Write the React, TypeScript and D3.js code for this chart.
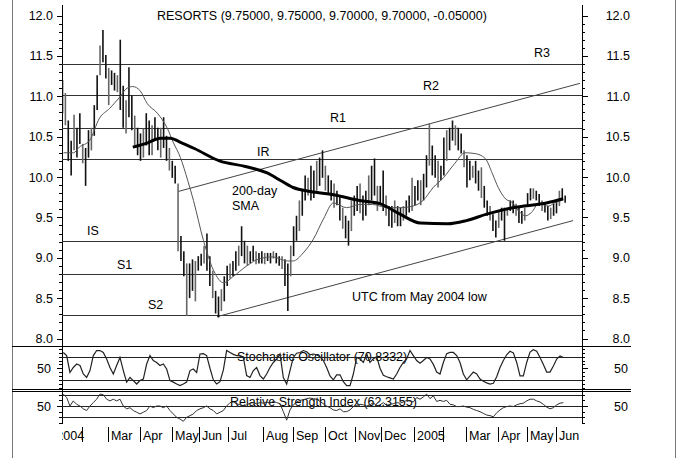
import React from 'react';
import * as d3 from 'd3';

const title = 'RESORTS (9.75000, 9.75000, 9.70000, 9.70000, -0.05000)';

// one bar every 2nd trading session, starting at session 0
const barHigh = [
  11.20, 11.04, 10.70, 10.45, 10.77, 10.61, 10.79, 10.41, 10.36, 10.58,
  10.61, 10.89, 11.26, 11.63, 11.82, 11.51, 11.35, 11.32, 11.29, 11.26,
  11.70, 11.13, 10.95, 11.36, 11.01, 10.76, 10.61, 10.54, 10.60, 10.79,
  10.70, 10.64, 10.74, 10.61, 10.61, 10.74, 10.51, 10.36, 10.20, 10.14,
  9.92, 9.27, 9.08, 8.93, 8.93, 8.98, 8.96, 9.02, 9.05, 9.15,
  9.30, 9.02, 8.84, 8.59, 8.52, 8.61, 8.77, 8.90, 8.93, 8.96,
  9.08, 9.15, 9.39, 9.21, 9.15, 9.08, 9.15, 9.08, 9.06, 9.08,
  9.06, 9.06, 9.06, 9.08, 9.06, 9.02, 9.02, 8.98, 8.93, 9.15,
  9.39, 9.52, 9.71, 9.83, 10.02, 9.99, 10.14, 10.08, 10.20, 10.24,
  10.33, 10.14, 10.02, 9.96, 9.92, 9.83, 9.77, 9.62, 9.52, 9.46,
  9.71, 9.77, 9.89, 9.92, 9.77, 9.83, 10.02, 10.14, 10.23, 9.89,
  9.89, 10.08, 9.77, 9.64, 9.64, 9.71, 9.64, 9.62, 9.64, 9.71,
  9.77, 9.99, 9.89, 9.96, 9.96, 10.04, 10.27, 10.66, 10.39, 10.27,
  10.20, 10.14, 10.49, 10.58, 10.61, 10.70, 10.64, 10.61, 10.54, 10.33,
  10.27, 10.20, 10.14, 10.20, 10.08, 10.12, 9.89, 9.71, 9.64, 9.54,
  9.46, 9.58, 9.62, 9.62, 9.62, 9.71, 9.71, 9.67, 9.62, 9.58,
  9.62, 9.80, 9.86, 9.86, 9.83, 9.79, 9.71, 9.67, 9.64, 9.62,
  9.67, 9.71, 9.83, 9.86, 9.77,
];
const barLow = [
  10.79, 10.64, 10.20, 10.02, 10.33, 10.24, 10.41, 10.17, 9.89, 10.24,
  10.33, 10.51, 10.83, 11.26, 11.42, 11.22, 10.89, 11.14, 11.07, 11.05,
  10.83, 10.61, 10.54, 10.74, 10.58, 10.39, 10.27, 10.20, 10.24, 10.39,
  10.27, 10.27, 10.45, 10.33, 10.24, 10.36, 10.20, 10.08, 9.99, 9.92,
  9.08, 8.96, 8.77, 8.28, 8.50, 8.59, 8.46, 8.84, 8.90, 8.93,
  8.84, 8.65, 8.50, 8.31, 8.26, 8.34, 8.46, 8.65, 8.74, 8.77,
  8.84, 8.90, 9.02, 8.93, 8.90, 8.93, 8.96, 8.92, 8.93, 8.93,
  8.92, 8.96, 8.93, 8.99, 8.93, 8.90, 8.86, 8.65, 8.34, 8.77,
  9.02, 9.21, 9.33, 9.52, 9.71, 9.77, 9.71, 9.74, 9.83, 9.89,
  9.99, 9.83, 9.80, 9.71, 9.62, 9.65, 9.46, 9.36, 9.24, 9.15,
  9.33, 9.52, 9.58, 9.55, 9.46, 9.52, 9.65, 9.71, 9.77, 9.58,
  9.65, 9.58, 9.52, 9.39, 9.37, 9.43, 9.39, 9.39, 9.46, 9.52,
  9.56, 9.58, 9.65, 9.71, 9.65, 9.71, 9.87, 10.14, 10.02, 9.99,
  9.87, 9.96, 10.02, 10.20, 10.33, 10.45, 10.39, 10.33, 10.29, 10.12,
  9.87, 9.96, 9.99, 9.92, 9.83, 9.74, 9.62, 9.52, 9.46, 9.33,
  9.25, 9.37, 9.46, 9.21, 9.52, 9.58, 9.55, 9.52, 9.43, 9.42,
  9.46, 9.64, 9.71, 9.73, 9.71, 9.64, 9.58, 9.56, 9.46, 9.48,
  9.52, 9.55, 9.64, 9.71, 9.68,
];

const levelNames = ['R3', 'R2', 'R1', 'IR', 'IS', 'S1', 'S2'];
const levelValues = [11.40, 11.02, 10.61, 10.22, 9.21, 8.80, 8.29];

// 200-day SMA (session, price)
const smaDays = [49, 59, 68, 75, 82, 92, 109, 127, 142, 151, 160, 172, 188, 206, 220, 234, 248, 267, 280, 294, 312, 336, 347];
const smaVals = [10.37, 10.42, 10.48, 10.48, 10.43, 10.35, 10.20, 10.13, 10.05, 9.96, 9.87, 9.82, 9.78, 9.71, 9.67, 9.54, 9.43, 9.42, 9.46, 9.54, 9.62, 9.68, 9.73];

// short moving average (session, price)
const maDays = [
  1, 8, 12, 19, 26, 33, 40, 45, 49, 54, 59, 66, 73, 77, 82, 87, 91, 98, 105, 112,
  118, 128, 137, 146, 156, 160, 167, 174, 181, 188, 197, 206, 215, 225, 234, 243,
  250, 257, 264, 272, 279, 286, 293, 298, 302, 307, 312, 316, 321, 325, 330, 337, 341, 346,
];
const maVals = [
  10.30, 10.30, 10.37, 10.45, 10.73, 10.85, 10.99, 11.10, 11.12, 11.07, 10.91, 10.79, 10.60, 10.43, 10.24, 9.96, 9.71, 9.21, 8.84, 8.69,
  8.76, 8.90, 8.99, 9.01, 8.96, 8.96, 9.06, 9.23, 9.48, 9.68, 9.62, 9.66, 9.66, 9.62, 9.62, 9.64,
  9.71, 9.87, 9.99, 10.17, 10.30, 10.29, 10.23, 10.04, 9.87, 9.73, 9.68, 9.58, 9.52, 9.56, 9.67, 9.64, 9.68, 9.71,
];

// channel from the May 2004 low
const lowerChannel = [[107.3, 8.27], [353.8, 9.46]];
const upperChannel = [[80.3, 9.82], [358.6, 11.16]];

// oscillators, sampled every oscStep sessions from oscStart
const oscStart = 0.9;
const oscStep = 2.308;
const stochVals = [
  91, 83, 39, 52, 61, 57, 35, 26, 44, 83, 96, 96, 91, 74, 52, 35, 57, 78, 44, 14,
  26, 18, 9, 18, 22, 61, 83, 70, 65, 57, 61, 48, 18, 14, 9, 5, 9, 14, 44, 48,
  39, 87, 88, 83, 50, 20, 9, 15, 45, 96, 91, 86, 83, 83, 78, 31, 26, 44, 52, 31,
  22, 35, 52, 65, 74, 87, 26, 9, 44, 78, 89, 91, 96, 93, 85, 87, 85, 80, 70, 52,
  30, 20, 33, 33, 15, 5, 5, 35, 78, 74, 65, 87, 65, 75, 80, 50, 32, 28, 25, 22,
  35, 52, 65, 74, 96, 83, 70, 63, 70, 78, 74, 60, 40, 35, 65, 88, 91, 91, 83, 65,
  35, 20, 30, 40, 35, 22, 16, 12, 9, 11, 28, 52, 70, 85, 94, 90, 65, 30, 30, 65,
  92, 98, 94, 78, 60, 40, 40, 56, 74, 82, 78,
];
const rsiVals = [
  71, 65, 50, 59, 53, 50, 45, 42, 50, 56, 62, 71, 70, 62, 59, 62, 59, 62, 50, 45,
  47, 42, 39, 36, 39, 42, 50, 47, 50, 50, 47, 50, 42, 36, 30, 27, 23, 30, 33, 36,
  42, 45, 47, 50, 45, 42, 36, 39, 42, 50, 56, 57, 54, 52, 50, 52, 55, 56, 54, 56,
  55, 57, 55, 58, 56, 54, 40, 25, 43, 52, 57, 60, 61, 63, 64, 63, 62, 58, 54, 50,
  47, 43, 42, 45, 40, 40, 43, 49, 51, 53, 52, 50, 52, 56, 50, 52, 56, 51, 53, 54,
  56, 55, 57, 60, 59, 57, 65, 62, 66, 71, 63, 68, 58, 60, 58, 60, 53, 52, 49, 49,
  50, 48, 47, 44, 42, 40, 37, 34, 33, 31, 38, 43, 47, 49, 50, 49, 52, 54, 55, 59,
  62, 62, 59, 57, 53, 48, 45, 47, 52, 55, 56,
];

const monthLabels = ['2004', '', 'Mar', 'Apr', 'May', 'Jun', 'Jul', 'Aug', 'Sep', 'Oct', 'Nov', 'Dec', '2005', '', 'Mar', 'Apr', 'May', 'Jun'];
const monthDays = [-6, 13.8, 31.8, 54, 76.2, 94.8, 114.9, 139.2, 159.9, 182.1, 202.8, 220.8, 243.7, 263.8, 279.7, 301.8, 321.9, 342];

const x = d3.scaleLinear().domain([0, 360]).range([62, 582]);
const y = d3.scaleLinear().domain([8, 12]).range([338.5, 15.5]);
const yS = d3.scaleLinear().domain([0, 100]).range([387.5, 349]);
const yR = d3.scaleLinear().domain([20, 80]).range([423, 389]);

const font = "'Liberation Sans', Arial, sans-serif";

export default function App() {
  const straight = d3.line<number[]>().x(d => x(d[0])).y(d => y(d[1]));
  const smooth = d3.line<number[]>().x(d => x(d[0])).y(d => y(d[1])).curve(d3.curveMonotoneX);
  const stochLine = d3.line<number>().x((_, i) => x(oscStart + i * oscStep)).y(d => yS(d));
  const rsiLine = d3.line<number>().x((_, i) => x(oscStart + i * oscStep)).y(d => yR(d));

  const sma = smaDays.map((d, i) => [d, smaVals[i]]);
  const ma = maDays.map((d, i) => [d, maVals[i]]);

  const minorPrice = d3.range(80, 121).map(v => v / 10);
  const majorPrice = d3.range(16, 25).map(v => v / 2);
  const stochTicks = d3.range(0, 101, 10);
  const rsiTicks = d3.range(20, 81, 10);

  const axisTicks = (yy: number, major: boolean, key: string) => (
    <g key={key}>
      <line x1={major ? 57 : 59} x2={62} y1={yy} y2={yy} stroke="#000" />
      <line x1={582} x2={major ? 588 : 585} y1={yy} y2={yy} stroke="#000" />
    </g>
  );

  return (
    <svg width={688} height={458} style={{ position: 'absolute', left: 0, top: 0, background: '#fff' }}
      fontFamily={font} fontSize={12.5}>
      <defs>
        <clipPath id="plot"><rect x={62} y={0} width={520} height={345} /></clipPath>
        <clipPath id="osc"><rect x={62} y={346} width={520} height={80} /></clipPath>
        <clipPath id="xlab"><rect x={62} y={424} width={560} height={30} /></clipPath>
      </defs>

      {/* outer frame */}
      <line x1={12.5} x2={12.5} y1={0} y2={458} stroke="#777" />
      <line x1={675.5} x2={675.5} y1={0} y2={458} stroke="#777" />
      <line x1={12} x2={631} y1={346.5} y2={346.5} stroke="#000" />
      <line x1={12} x2={631} y1={389.5} y2={389.5} stroke="#000" />
      <line x1={12} x2={631} y1={391.5} y2={391.5} stroke="#000" />

      {/* axes */}
      <line x1={62.5} x2={62.5} y1={5} y2={424} stroke="#000" />
      <line x1={582.5} x2={582.5} y1={5} y2={424} stroke="#000" />
      {minorPrice.map(v => axisTicks(Math.round(y(v)) + 0.5, false, 'mp' + v))}
      {majorPrice.map(v => axisTicks(Math.round(y(v)) + 0.5, true, 'Mp' + v))}
      {majorPrice.map(v => (
        <g key={'pl' + v}>
          <text x={53} y={y(v) + 4.5} textAnchor="end">{v.toFixed(1)}</text>
          <text x={630} y={y(v) + 4.5} textAnchor="end">{v.toFixed(1)}</text>
        </g>
      ))}
      {stochTicks.map(v => axisTicks(Math.round(yS(v)) + 0.5, v === 50, 'st' + v))}
      {rsiTicks.map(v => axisTicks(Math.round(yR(v)) + 0.5, v === 50, 'rt' + v))}
      <text x={51} y={yS(50) + 4.5} textAnchor="end">50</text>
      <text x={628} y={yS(50) + 4.5} textAnchor="end">50</text>
      <text x={51} y={yR(50) + 4.5} textAnchor="end">50</text>
      <text x={628} y={yR(50) + 4.5} textAnchor="end">50</text>

      {/* title and annotations */}
      <text x={157} y={20}>{title}</text>
      <text x={534} y={57}>R3</text>
      <text x={423} y={90}>R2</text>
      <text x={330} y={121.5}>R1</text>
      <text x={257} y={156}>IR</text>
      <text x={232} y={195}>200-day</text>
      <text x={232} y={209.5}>SMA</text>
      <text x={87} y={234.5}>IS</text>
      <text x={117} y={268.5}>S1</text>
      <text x={148} y={308.5}>S2</text>
      <text x={352} y={301}>UTC from May 2004 low</text>
      <text x={237} y={361}>Stochastic Oscillator (70.8332)</text>
      <text x={230} y={405.5}>Relative Strength Index (62.3155)</text>

      <g clipPath="url(#plot)">
        {levelValues.map((v, i) => (
          <line key={levelNames[i]} x1={62} x2={582} y1={Math.round(y(v)) + 0.5} y2={Math.round(y(v)) + 0.5} stroke="#333" />
        ))}
        {[lowerChannel, upperChannel].map((c, i) => (
          <path key={'ch' + i} d={straight(c) || ''} fill="none" stroke="#444" strokeWidth={1} />
        ))}
        {barHigh.map((h, i) => (
          <line key={'b' + i} x1={x(i * 2) + 0.5} x2={x(i * 2) + 0.5} y1={y(h)} y2={y(barLow[i])}
            stroke={i % 3 === 1 ? '#666' : '#111'} strokeWidth={1.6} />
        ))}
        <path d={smooth(ma) || ''} fill="none" stroke="#555" strokeWidth={1} />
        <path d={smooth(sma) || ''} fill="none" stroke="#000" strokeWidth={3} strokeLinejoin="round" />
      </g>

      <g clipPath="url(#osc)">
        {[20, 80].map(v => (
          <line key={'sl' + v} x1={62} x2={582} y1={Math.round(yS(v)) + 0.5} y2={Math.round(yS(v)) + 0.5} stroke="#222" />
        ))}
        {[30, 50, 70].map(v => (
          <line key={'rl' + v} x1={62} x2={582} y1={Math.round(yR(v)) + 0.5} y2={Math.round(yR(v)) + 0.5} stroke="#222" />
        ))}
        <path d={stochLine(stochVals) || ''} fill="none" stroke="#222" strokeWidth={1.2} />
        <path d={rsiLine(rsiVals) || ''} fill="none" stroke="#333" strokeWidth={1} />
      </g>

      <g clipPath="url(#xlab)">
        {monthDays.map((d, i) => (
          <g key={'m' + i}>
            <line x1={Math.round(x(d)) + 0.5} x2={Math.round(x(d)) + 0.5} y1={427} y2={442} stroke="#000" />
            <text x={x(d) + 3} y={439.5}>{monthLabels[i]}</text>
          </g>
        ))}
      </g>
    </svg>
  );
}
